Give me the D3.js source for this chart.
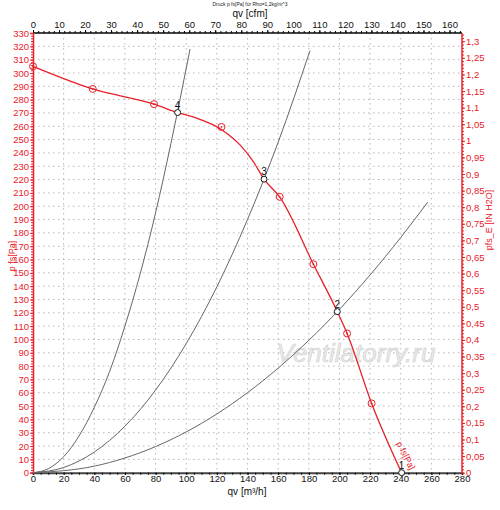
<!DOCTYPE html>
<html>
<head>
<meta charset="utf-8">
<script src="https://cdn.jsdelivr.net/npm/d3@7"></script>
<style>
  body { margin: 0; background: #fff; }
  svg { font-family: "Liberation Sans", Arial, sans-serif; }
</style>
</head>
<body>
<svg width="500" height="510"></svg>
<script>
// tick values
const qvTicks = [0, 20, 40, 60, 80, 100, 120, 140, 160, 180, 200, 220, 240, 260, 280]
const cfmTicks = [0, 10, 20, 30, 40, 50, 60, 70, 80, 90, 100, 110, 120, 130, 140, 150, 160]
const paTicks = d3.range(0, 331, 10)
const inchTicks = d3.range(0, 27).map(i => i * 0.05)

// fan curve line
const fanLineQv = [0, 39, 79, 94.4, 106.8, 117.7, 126.4, 135.1, 143.8, 150.8, 161, 183, 198.6, 205, 221, 240.6]
const fanLineP = [305, 288, 276.6, 270.3, 266.1, 261, 254.8, 246, 233.5, 220.3, 207, 156.5, 120.9, 104.5, 52, 0]

// measured points (red markers)
const fanQv = [0, 39, 79, 123, 161, 183, 205, 221]
const fanP = [305, 288, 276.6, 259.5, 207, 156.5, 104.5, 52]

// operating points 1..4
const opLabels = ['1', '2', '3', '4']
const opQv = [240.6, 198.6, 150.8, 94.4]
const opP = [0, 120.9, 220.3, 270.3]

// system curves
const sysAQv = [0, 10, 20, 30, 40, 50, 60, 70, 80, 90, 102.5]
const sysAP = [0, 3, 12, 27.5, 49, 76, 110, 149.5, 195, 247, 318]
const sysBQv = [0, 20, 40, 60, 80, 100, 120, 140, 160, 180.8]
const sysBP = [0, 3.9, 15.5, 34.9, 62, 96.9, 139.5, 190, 248, 316.8]
const sysCQv = [0, 40, 80, 120, 160, 200, 240, 257.6]
const sysCP = [0, 4.9, 19.6, 44.1, 78.5, 122.6, 176.5, 203]

const M3H_PER_CFM = 1.69901
const PA_PER_INCH = 249.089

const svg = d3.select('svg')
const red = '#e8202a'

const x = d3.scaleLinear().domain([0, 280]).range([33, 462])
const y = d3.scaleLinear().domain([0, 330]).range([472.7, 33])
const xTop = d3.scaleLinear().domain([0, 280 / M3H_PER_CFM]).range([33, 462])
const yRight = d3.scaleLinear().domain([0, 330 / PA_PER_INCH]).range([472.7, 33])

const comma = v => d3.format('~g')(+v.toFixed(2)).replace('.', ',')

// dotted grid
const grid = svg.append('g').attr('stroke', '#b8b8b8').attr('stroke-dasharray', '1.5,3.5')
grid.selectAll('.gx').data(qvTicks.slice(1, -1)).enter().append('line')
    .attr('x1', d => x(d)).attr('x2', d => x(d)).attr('y1', y(330)).attr('y2', y(0))
grid.selectAll('.gy').data(paTicks.slice(1, -1)).enter().append('line')
    .attr('y1', d => y(d)).attr('y2', d => y(d)).attr('x1', x(0)).attr('x2', x(280))

// watermark
svg.append('text')
    .attr('x', 356).attr('y', 362)
    .attr('text-anchor', 'middle')
    .attr('font-size', 26).attr('font-style', 'italic')
    .attr('fill', '#eaeaea').attr('stroke', '#d0d0d0').attr('stroke-width', 0.6)
    .text('Ventilatorry.ru')

// axes
const bottomAxis = svg.append('g').attr('transform', `translate(0,${y(0)})`)
    .call(d3.axisBottom(x).tickValues(qvTicks).tickSize(2).tickPadding(1))
bottomAxis.select('.domain').attr('stroke', '#444').attr('stroke-width', 2)
bottomAxis.selectAll('text').attr('font-size', 9.5).attr('fill', '#111')
svg.append('g').attr('transform', `translate(0,${y(0)})`)
    .call(d3.axisBottom(x).tickValues(d3.range(0, 281, 5)).tickSize(2).tickFormat(''))
    .select('.domain').remove()

const topAxis = svg.append('g').attr('transform', `translate(0,${y(330)})`)
    .call(d3.axisTop(xTop).tickValues(cfmTicks).tickSize(3).tickPadding(2))
topAxis.select('.domain').attr('stroke', '#444').attr('stroke-width', 2)
    .attr('d', `M${x(0)},0H${x(280)}`)
topAxis.selectAll('text').attr('font-size', 9.5).attr('fill', '#111')
svg.append('g').attr('transform', `translate(0,${y(330)})`)
    .call(d3.axisTop(xTop).tickValues(d3.range(0, 165, 2)).tickSize(2).tickFormat(''))
    .select('.domain').remove()

const leftAxis = svg.append('g').attr('transform', `translate(${x(0)},0)`)
    .call(d3.axisLeft(y).tickValues(paTicks).tickSize(3).tickPadding(1))
leftAxis.select('.domain').attr('stroke', red).attr('stroke-width', 1.5)
leftAxis.selectAll('line').attr('stroke', red)
leftAxis.selectAll('text').attr('font-size', 9.5).attr('fill', red)
svg.append('g').attr('transform', `translate(${x(0)},0)`)
    .call(d3.axisLeft(y).tickValues(d3.range(0, 331, 2)).tickSize(2).tickFormat(''))
    .call(g => g.select('.domain').remove())
    .selectAll('line').attr('stroke', red)

const rightAxis = svg.append('g').attr('transform', `translate(${x(280)},0)`)
    .call(d3.axisRight(yRight).tickValues(inchTicks).tickSize(3).tickPadding(1).tickFormat(comma))
rightAxis.select('.domain').attr('stroke', red).attr('stroke-width', 1.5)
    .attr('d', `M0,${y(0)}V${y(330)}`)
rightAxis.selectAll('line').attr('stroke', red)
rightAxis.selectAll('text').attr('font-size', 9.5).attr('fill', red)
svg.append('g').attr('transform', `translate(${x(280)},0)`)
    .call(d3.axisRight(yRight).tickValues(d3.range(0, 133).map(i => i * 0.01)).tickSize(2).tickFormat(''))
    .call(g => g.select('.domain').remove())
    .selectAll('line').attr('stroke', red)

// axis titles
svg.append('text').attr('x', 250).attr('y', 6).attr('text-anchor', 'middle')
    .attr('font-size', 5).attr('fill', '#222').text('Druck p fs[Pa] für Rho=1,2kg/m^3')
svg.append('text').attr('x', 250).attr('y', 17).attr('text-anchor', 'middle')
    .attr('font-size', 10).attr('fill', '#111').text('qv [cfm]')
svg.append('text').attr('x', 247).attr('y', 495).attr('text-anchor', 'middle')
    .attr('font-size', 10).attr('fill', '#111').text('qv [m³/h]')
svg.append('text').attr('transform', 'translate(15,256) rotate(-90)').attr('text-anchor', 'middle')
    .attr('font-size', 9).attr('fill', red).text('p fs[Pa]')
svg.append('text').attr('transform', 'translate(492,220) rotate(-90)').attr('text-anchor', 'middle')
    .attr('font-size', 9).attr('fill', red).text('pfs_E [IN H2O]')

// system curves
const line = d3.line().x(d => x(d[0])).y(d => y(d[1])).curve(d3.curveMonotoneX)
const sysCurves = [[sysAQv, sysAP], [sysBQv, sysBP], [sysCQv, sysCP]]
svg.selectAll('.sys').data(sysCurves).enter().append('path')
    .attr('fill', 'none').attr('stroke', '#666').attr('stroke-width', 1)
    .attr('d', c => line(c[0].map((q, i) => [q, c[1][i]])))

// fan curve
svg.append('path').attr('fill', 'none').attr('stroke', red).attr('stroke-width', 1.3)
    .attr('d', line(fanLineQv.map((q, i) => [q, fanLineP[i]])))

const markers = svg.selectAll('.mk').data(fanQv).enter().append('g')
    .attr('transform', (d, i) => `translate(${x(d)},${y(fanP[i])})`)
markers.append('circle').attr('r', 3.5).attr('fill', 'none').attr('stroke', red).attr('stroke-width', 1)
markers.append('circle').attr('r', 0.9).attr('fill', red)

// curve label
svg.append('text').attr('transform', `translate(${x(237)},${y(22)}) rotate(63)`)
    .attr('font-size', 9).attr('fill', red).text('p fs[Pa]')

// operating points
const ops = svg.selectAll('.op').data(opQv).enter().append('g')
    .attr('transform', (d, i) => `translate(${x(d)},${y(opP[i])})`)
ops.append('circle').attr('r', 3).attr('fill', '#fff').attr('stroke', '#111').attr('stroke-width', 1)
ops.append('text').attr('y', -4).attr('text-anchor', 'middle')
    .attr('font-size', 10).attr('fill', '#111').text((d, i) => opLabels[i])
</script>
</body>
</html>
